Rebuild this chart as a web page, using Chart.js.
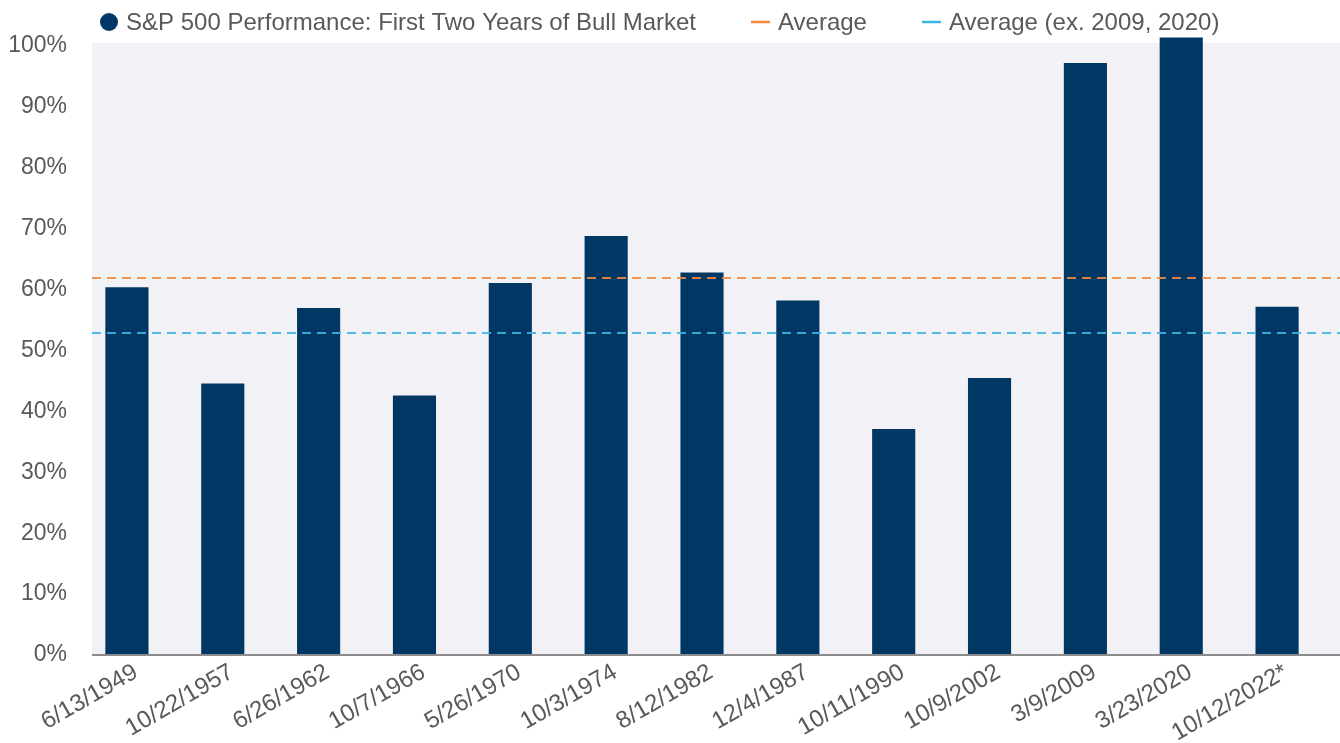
<!DOCTYPE html>
<html>
<head>
<meta charset="utf-8">
<script src="https://cdn.jsdelivr.net/npm/chart.js@4.4.1/dist/chart.umd.min.js"></script>
<style>
  html, body { margin: 0; padding: 0; background: #fff; }
  #wrap { width: 1340px; height: 743px; }
</style>
</head>
<body>
<div id="wrap"><canvas id="bull-chart"></canvas></div>
<script>
// data
const startDates = ['6/13/1949', '10/22/1957', '6/26/1962', '10/7/1966', '5/26/1970', '10/3/1974',
    '8/12/1982', '12/4/1987', '10/11/1990', '10/9/2002', '3/9/2009', '3/23/2020', '10/12/2022*'];
const twoYearGain = [60.4, 44.6, 57.0, 42.6, 61.1, 68.8, 62.8, 58.2, 37.1, 45.5, 97.2, 101.4, 57.2];
const averageAll = 61.9;
const averageExOutliers = 52.8;
const yTicks = [0, 10, 20, 30, 40, 50, 60, 70, 80, 90, 100];

const NAVY = '#003764';
const ORANGE = '#f08a3e';
const CYAN = '#3db4e5';
const TEXT = '#595959';
const FONT = '"Liberation Sans", Arial, sans-serif';

const avgLines = [
    { label: 'Average', value: averageAll, color: ORANGE },
    { label: 'Average (ex. 2009, 2020)', value: averageExOutliers, color: CYAN }
];

// grey plot background, starts a little right of the axis labels
const plotBackground = {
    id: 'plotBackground',
    beforeDraw(chart) {
        const { ctx, chartArea } = chart;
        ctx.save();
        ctx.fillStyle = '#f2f2f6';
        ctx.fillRect(chartArea.left + 13, chartArea.top, chart.width - chartArea.left - 13, chartArea.bottom - chartArea.top);
        ctx.restore();
    }
};

// dashed average lines and the base line across the whole plot
const averageLines = {
    id: 'averageLines',
    afterDatasetsDraw(chart) {
        const { ctx, chartArea, scales } = chart;
        const left = chartArea.left + 13;
        ctx.save();
        ctx.lineWidth = 2;
        ctx.setLineDash([9, 6]);
        avgLines.forEach(a => {
            const y = Math.round(scales.y.getPixelForValue(a.value));
            ctx.strokeStyle = a.color;
            ctx.globalAlpha = 0.9;
            ctx.beginPath();
            ctx.moveTo(left, y);
            ctx.lineTo(chart.width, y);
            ctx.stroke();
        });
        ctx.globalAlpha = 1;
        ctx.setLineDash([]);
        ctx.strokeStyle = '#8c8c8c';
        const y0 = scales.y.getPixelForValue(0);
        ctx.beginPath();
        ctx.moveTo(left, y0);
        ctx.lineTo(chart.width, y0);
        ctx.stroke();
        ctx.restore();
    }
};

// legend row on top
const legendRow = {
    id: 'legendRow',
    afterDraw(chart) {
        const ctx = chart.ctx;
        const y = 22;
        let x = 100;
        ctx.save();
        ctx.font = '24px ' + FONT;
        ctx.textBaseline = 'middle';
        ctx.fillStyle = NAVY;
        ctx.beginPath();
        ctx.arc(x + 9, y, 9, 0, Math.PI * 2);
        ctx.fill();
        x += 26;
        const first = chart.data.datasets[0].label;
        ctx.fillStyle = TEXT;
        ctx.fillText(first, x, y + 1);
        x += ctx.measureText(first).width + 55;
        avgLines.forEach(a => {
            ctx.strokeStyle = a.color;
            ctx.lineWidth = 2.5;
            ctx.beginPath();
            ctx.moveTo(x, y);
            ctx.lineTo(x + 19, y);
            ctx.stroke();
            x += 27;
            ctx.fillStyle = TEXT;
            ctx.fillText(a.label, x, y + 1);
            x += ctx.measureText(a.label).width + 55;
        });
        ctx.restore();
    }
};

new Chart(document.getElementById('bull-chart'), {
    type: 'bar',
    data: {
        labels: startDates,
        datasets: [{
            label: 'S&P 500 Performance: First Two Years of Bull Market',
            data: twoYearGain,
            backgroundColor: NAVY,
            borderWidth: 0,
            categoryPercentage: 1,
            barPercentage: 0.45,
            clip: false
        }]
    },
    options: {
        responsive: true,
        maintainAspectRatio: false,
        animation: false,
        layout: { padding: { top: 43, left: 9, right: 15, bottom: 0 } },
        plugins: {
            legend: { display: false },
            tooltip: { enabled: false }
        },
        scales: {
            x: {
                grid: { display: false, drawTicks: false },
                border: { display: false },
                afterFit: axis => {
                    // don't let the rotated first label push the plot right
                    axis.paddingLeft = 0;
                    axis.paddingRight = 0;
                    axis.height = 88;
                },
                ticks: {
                    color: TEXT,
                    font: { family: FONT, size: 24 },
                    minRotation: 30,
                    maxRotation: 30,
                    labelOffset: 9,
                    padding: 3,
                    autoSkip: false
                }
            },
            y: {
                min: 0,
                max: 100.5,
                afterBuildTicks: axis => { axis.ticks = yTicks.map(v => ({ value: v })); },
                afterFit: axis => { axis.width = 70; },
                grid: { display: false, drawTicks: false },
                border: { display: false },
                ticks: {
                    color: TEXT,
                    font: { family: FONT, size: 23 },
                    padding: 12,
                    callback: v => v + '%'
                }
            }
        }
    },
    plugins: [plotBackground, averageLines, legendRow]
});
</script>
</body>
</html>
